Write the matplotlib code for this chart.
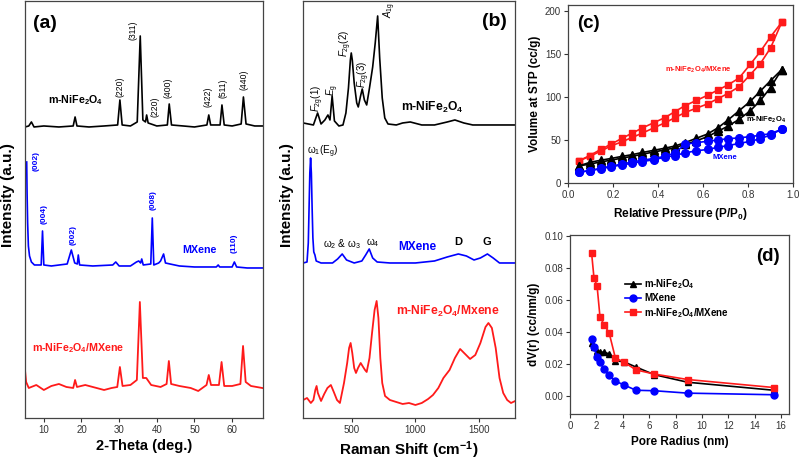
import matplotlib
matplotlib.use('Agg')
import matplotlib.pyplot as plt

plt.rcParams['font.family'] = ['Liberation Sans', 'DejaVu Sans']
plt.rcParams['mathtext.fontset'] = 'custom'
plt.rcParams['mathtext.rm'] = 'Liberation Sans:bold'
plt.rcParams['mathtext.bf'] = 'Liberation Sans:bold'
plt.rcParams['mathtext.it'] = 'Liberation Sans:italic'
plt.rcParams['mathtext.sf'] = 'Liberation Sans'
plt.rcParams['mathtext.default'] = 'rm'

# ---- (a) XRD, intensity in a.u. (stacked) ----
xrd_nfo_2t = [5.0, 6.0, 6.7, 7.4, 10, 14, 17.8, 18.3, 18.8, 22, 26, 29.6, 30.2, 30.8, 33,
              34.8, 35.6, 36.3, 37.0, 37.3, 37.7, 40, 42.8, 43.3, 43.9, 47, 50, 53.3, 53.8,
              54.3, 56.8, 57.3, 57.9, 60, 62.4, 63.0, 63.7, 66, 68]
xrd_nfo_int = [291, 292, 296, 291, 292, 291, 292, 301, 292, 291, 292, 293, 318, 293, 292,
               296, 382, 298, 296, 303, 295, 292, 293, 314, 293, 292, 291, 293, 303,
               293, 293, 313, 293, 292, 294, 321, 294, 292, 292]

xrd_mx_2t = [5.45, 5.55, 5.7, 5.9, 6.2, 6.7, 7.5, 9.3, 9.65, 10.0, 12, 16.2, 17.3, 18.2, 18.9,
             19.15, 19.5, 23, 28.3, 29.1, 30, 33, 34.6, 35.2, 35.7, 36.0, 36.4, 38.4, 38.8,
             39.2, 40.5, 41.0, 41.8, 42.3, 43.5, 46, 50, 55.8, 56.3, 56.7, 60.0, 60.6, 61.2,
             64, 68]
xrd_mx_int = [256, 225, 195, 172, 162, 156, 153, 153, 187, 153, 152, 154, 168, 155, 154,
              163, 153, 152, 153, 156, 152, 152, 156, 157, 155, 159, 153, 154, 200,
              153, 155, 157, 164, 155, 154, 152, 151, 151, 153, 151, 151, 156, 151,
              150, 150]

xrd_comp_2t = [5.0, 5.3, 6, 8, 10, 12, 14, 16, 17.8, 18.3, 18.8, 21, 24, 26, 28, 29.5, 30.2,
               30.9, 33, 34.7, 35.5, 36.3, 37.2, 38.5, 41, 42.6, 43.2, 43.8, 46, 49, 51, 53.2,
               53.8, 54.4, 56.5, 57.2, 57.9, 60, 62.2, 62.9, 63.6, 65, 68]
xrd_comp_int = [48, 36, 30, 33, 28, 32, 34, 31, 30, 38, 31, 33, 30, 28, 30, 31, 51,
                32, 33, 38, 116, 40, 40, 33, 31, 34, 57, 34, 32, 30, 27, 33,
                43, 33, 33, 56, 32, 32, 34, 72, 36, 32, 30]

# ---- (b) Raman ----
ram_nfo_x = [120, 160, 200, 233, 260, 290, 314, 330, 347, 365, 400, 432, 455, 475, 490, 497,
             505, 520, 540, 552, 570, 583, 600, 618, 640, 665, 685, 704, 720, 740, 760, 785,
             850, 900, 960, 1050, 1150, 1250, 1310, 1380, 1450, 1600, 1783]
ram_nfo_y = [295, 294, 293, 305, 294, 298, 303, 298, 322, 297, 292, 293, 305, 330, 358, 365,
             358, 335, 315, 311, 322, 329, 318, 313, 330, 351, 375, 402, 360, 320, 300, 294,
             293, 295, 296, 293, 293, 296, 298, 295, 293, 293, 293]

ram_mx_x = [120, 150, 160, 166, 172, 178, 184, 190, 196, 203, 212, 222, 260, 350, 390, 426,
            460, 520, 580, 610, 638, 665, 700, 800, 1000, 1150, 1250, 1337, 1400, 1460, 1510,
            1565, 1610, 1660, 1783]
ram_mx_y = [155, 156, 175, 210, 245, 260, 245, 210, 180, 166, 163, 157, 155, 155, 159, 164,
            158, 155, 157, 163, 169, 160, 156, 155, 155, 157, 161, 164, 162, 158, 160,
            164, 160, 155, 155]

ram_comp_x = [120, 150, 180, 200, 215, 225, 235, 260, 285, 310, 337, 360, 385, 408, 440, 465,
              480, 492, 505, 520, 534, 550, 571, 590, 605, 618, 640, 660, 680, 696, 710, 725,
              740, 762, 800, 850, 900, 950, 1000, 1050, 1100, 1138, 1180, 1220, 1268, 1310,
              1351, 1390, 1429, 1470, 1510, 1550, 1573, 1600, 1630, 1660, 1689, 1720, 1750, 1783]
ram_comp_y = [18, 20, 15, 18, 28, 32, 25, 17, 24, 30, 33, 26, 18, 15, 35, 55,
              70, 75, 65, 50, 45, 50, 55, 51, 48, 46, 60, 85, 108, 117, 100, 60,
              35, 22, 18, 16, 14, 15, 13, 15, 19, 23, 30, 40, 48, 60,
              69, 64, 59, 63, 75, 91, 95, 90, 70, 40, 25, 18, 15, 17]

# ---- (c) N2 isotherms ----
p_rel = [0.05, 0.097, 0.145, 0.19, 0.24, 0.285, 0.33, 0.38, 0.43, 0.475, 0.52, 0.57, 0.62,
         0.665, 0.71, 0.76, 0.81, 0.855, 0.9, 0.95]
comp_ads = [26, 31, 37, 43, 48, 53, 58, 64, 70, 76, 82, 87, 92, 98, 104, 112, 126, 139, 157, 187]
comp_des = [26, 32, 39, 45, 52, 58, 64, 70, 76, 83, 90, 96, 102, 108, 114, 122, 138, 153, 170, 187]
nfo_ads = [20, 22, 24.5, 26.5, 29, 31, 33.5, 36, 38.5, 41, 45, 49, 54, 60, 66, 74, 84, 96, 111, 132]
nfo_des = [20, 24, 26.5, 28.5, 31, 33, 35.5, 38, 40.5, 43, 47, 52, 57, 64, 73, 84, 95, 107, 119, 132]
mx_ads = [12.5, 14.5, 16.5, 19, 21, 23, 25, 27, 30, 32, 35, 37.5, 39, 41.5, 43.5, 46, 48.5, 51.5, 56, 62.5]
mx_des = [12.5, 14.5, 17, 19.5, 22, 24.5, 26.5, 28.5, 31, 35, 45, 47, 48.5, 50, 51.5, 52.5, 54, 55.5, 57.5, 62.5]

# ---- (d) pore size distribution ----
pore_r = [1.64, 1.82, 2.05, 2.27, 2.58, 2.96, 3.44, 4.07, 5.0, 6.4, 8.92, 15.45]
dv_nfo = [0.0332, 0.031, 0.0286, 0.0278, 0.0274, 0.0266, 0.0222, 0.0216, 0.0183, 0.0135, 0.0088, 0.0038]
dv_mx = [0.0357, 0.031, 0.0245, 0.0212, 0.017, 0.0133, 0.0095, 0.0072, 0.0038, 0.0035, 0.002, 0.001]
dv_comp = [0.0892, 0.0737, 0.0691, 0.0498, 0.0446, 0.0398, 0.0239, 0.0215, 0.0165, 0.0139, 0.0105, 0.0055]

BLK = 'black'
BLU = '#0000ff'
RED = '#ff1a1a'
FRAME = '#444444'

fig = plt.figure(figsize=(8, 4.61), dpi=100)
ax_a = fig.add_axes([0.03125, 0.0933, 0.2975, 0.9046])
ax_b = fig.add_axes([0.379, 0.0933, 0.265, 0.9046])
ax_c = fig.add_axes([0.71, 0.603, 0.28125, 0.386])
ax_d = fig.add_axes([0.7125, 0.102, 0.27375, 0.388])

for ax in (ax_a, ax_b, ax_c, ax_d):
    for s in ax.spines.values():
        s.set_color(FRAME)
        s.set_linewidth(0.9)
    ax.tick_params(direction='out', length=3, width=0.8, labelsize=7, colors='#333333',
                   pad=2)

# (a)
ax_a.plot(xrd_nfo_2t, xrd_nfo_int, color=BLK, lw=1.2)
ax_a.plot(xrd_mx_2t, xrd_mx_int, color=BLU, lw=1.2)
ax_a.plot(xrd_comp_2t, xrd_comp_int, color=RED, lw=1.3)
ax_a.set_xlim(5, 68.2)
ax_a.set_ylim(0, 417)
ax_a.set_xticks([10, 20, 30, 40, 50, 60])
ax_a.set_yticks([])
ax_a.set_xlabel('2-Theta (deg.)', fontsize=10.5, fontweight='bold', labelpad=3)
ax_a.set_ylabel('Intensity (a.u.)', fontsize=11, fontweight='bold')
ax_a.yaxis.set_label_coords(-0.04, 0.535)
ax_a.text(0.084, 0.947, '(a)', transform=ax_a.transAxes, fontsize=14, fontweight='bold',
          ha='center', va='center')

hkl_nfo = [('(220)', 30.2, 331), ('(311)', 33.75, 388), ('(220)', 39.5, 311),
           ('(400)', 43.06, 330), ('(422)', 53.7, 321), ('(511)', 57.5, 330),
           ('(440)', 63.2, 338)]
for lab, x, y in hkl_nfo:
    ax_a.text(x, y, lab, rotation=90, fontsize=6.2, ha='center', va='center', color=BLK)
hkl_mx = [('(002)', 7.9, 257), ('(004)', 10.0, 204), ('(002)', 17.8, 183),
          ('(008)', 39.1, 218), ('(110)', 60.5, 175)]
for lab, x, y in hkl_mx:
    ax_a.text(x, y, lab, rotation=90, fontsize=6, fontweight='bold', ha='center',
              va='center', color=BLU)
ax_a.text(18.5, 318, 'm-NiFe$_2$O$_4$', fontsize=7.7, fontweight='bold', ha='center',
          va='center', color=BLK)
ax_a.text(51.2, 168, 'MXene', fontsize=7.7, fontweight='bold', ha='center', va='center',
          color=BLU)
ax_a.text(19, 70, 'm-NiFe$_2$O$_4$/MXene', fontsize=7.7, fontweight='bold', ha='center',
          va='center', color=RED)

# (b)
ax_b.plot(ram_nfo_x, ram_nfo_y, color=BLK, lw=1.2)
ax_b.plot(ram_mx_x, ram_mx_y, color=BLU, lw=1.2)
ax_b.plot(ram_comp_x, ram_comp_y, color=RED, lw=1.3)
ax_b.set_xlim(120, 1783)
ax_b.set_ylim(0, 417)
ax_b.set_xticks([500, 1000, 1500])
ax_b.set_yticks([])
ax_b.set_xlabel('Raman Shift (cm$^{-1}$)', fontsize=11, fontweight='bold', labelpad=3)
ax_b.set_ylabel('Intensity (a.u.)', fontsize=11, fontweight='bold')
ax_b.yaxis.set_label_coords(-0.045, 0.535)
ax_b.text(0.90, 0.95, '(b)', transform=ax_b.transAxes, fontsize=14, fontweight='bold',
          ha='center', va='center')

raman_modes = [(r'$\mathit{F}_\mathsf{2g}$(1)', 233, 320), (r'$\mathit{E}_\mathsf{g}$', 353, 328),
               (r'$\mathit{F}_\mathsf{2g}$(2)', 455, 375), (r'$\mathit{F}_\mathsf{2g}$(3)', 597, 344),
               (r'$\mathit{A}_\mathsf{1g}$', 800, 408)]
for lab, x, y in raman_modes:
    ax_b.text(x, y, lab, rotation=90, fontsize=7, ha='center', va='center', color=BLK)
ax_b.text(1131, 311, 'm-NiFe$_2$O$_4$', fontsize=8.7, fontweight='bold', ha='center',
          va='center', color=BLK)
ax_b.text(149, 266, r'$\mathsf{\omega_1}$(E$_\mathsf{g}$)', fontsize=7.2, ha='left',
          va='center', color=BLK)
ax_b.text(420, 174, r'$\mathsf{\omega_2}$ & $\mathsf{\omega_3}$', fontsize=7.2, ha='center',
          va='center', color=BLK)
ax_b.text(667, 175, r'$\mathsf{\omega_4}$', fontsize=7.2, ha='center', va='center', color=BLK)
ax_b.text(1013, 171, 'MXene', fontsize=8.6, fontweight='bold', ha='center', va='center',
          color=BLU)
ax_b.text(1335, 176, 'D', fontsize=8, fontweight='bold', ha='center', va='center', color=BLK)
ax_b.text(1563, 176, 'G', fontsize=8, fontweight='bold', ha='center', va='center', color=BLK)
ax_b.text(1253, 107, 'm-NiFe$_2$O$_4$/Mxene', fontsize=8.7, fontweight='bold', ha='center',
          va='center', color=RED)

# (c)
for ads, des, col, mk, ms in [(comp_ads, comp_des, RED, 's', 5),
                              (nfo_ads, nfo_des, BLK, '^', 5.5),
                              (mx_ads, mx_des, BLU, 'o', 5.5)]:
    ax_c.plot(p_rel, ads, color=col, marker=mk, ms=ms, lw=1.2)
    ax_c.plot(p_rel, des, color=col, marker=mk, ms=ms, lw=1.2)
ax_c.set_xlim(0, 1.0)
ax_c.set_ylim(0, 207)
ax_c.set_xticks([0.0, 0.2, 0.4, 0.6, 0.8, 1.0])
ax_c.set_yticks([0, 50, 100, 150, 200])
ax_c.set_xlabel('Relative Pressure (P/P$_0$)', fontsize=8.5, fontweight='bold', labelpad=4)
ax_c.set_ylabel('Volume at STP (cc/g)', fontsize=8.5, fontweight='bold', labelpad=3)
ax_c.text(0.09, 186, '(c)', fontsize=13.5, fontweight='bold', ha='center', va='center')
ax_c.text(0.578, 132, 'm-NiFe$_2$O$_4$/MXene', fontsize=5.5, fontweight='bold', ha='center',
          va='center', color=RED)
ax_c.text(0.878, 74, 'm-NiFe$_2$O$_4$', fontsize=5.5, fontweight='bold', ha='center',
          va='center', color=BLK)
ax_c.text(0.696, 30, 'MXene', fontsize=5.5, fontweight='bold', ha='center', va='center',
          color=BLU)

# (d)
ax_d.plot(pore_r, dv_nfo, color=BLK, marker='^', ms=5, lw=1.2, label='m-NiFe$_2$O$_4$')
ax_d.plot(pore_r, dv_mx, color=BLU, marker='o', ms=5, lw=1.2, label='MXene')
ax_d.plot(pore_r, dv_comp, color=RED, marker='s', ms=4.5, lw=1.2,
          label='m-NiFe$_2$O$_4$/MXene')
ax_d.set_xlim(0, 16.6)
ax_d.set_ylim(-0.011, 0.1006)
ax_d.set_xticks([0, 2, 4, 6, 8, 10, 12, 14, 16])
ax_d.set_yticks([0.0, 0.02, 0.04, 0.06, 0.08, 0.10])
ax_d.set_yticklabels(['0.00', '0.02', '0.04', '0.06', '0.08', '0.10'])
ax_d.set_xlabel('Pore Radius (nm)', fontsize=8.5, fontweight='bold', labelpad=4)
ax_d.set_ylabel('dV(r) (cc/nm/g)', fontsize=8.5, fontweight='bold', labelpad=3)
ax_d.text(15.0, 0.087, '(d)', fontsize=13.5, fontweight='bold', ha='center', va='center')
ax_d.legend(loc='upper left', bbox_to_anchor=(0.25, 0.765), frameon=False,
            prop={'weight': 'bold', 'size': 7}, handlelength=1.7, handletextpad=0.3,
            labelspacing=0.25, borderaxespad=0, borderpad=0, numpoints=1)

fig.savefig('out.png', dpi=100)
